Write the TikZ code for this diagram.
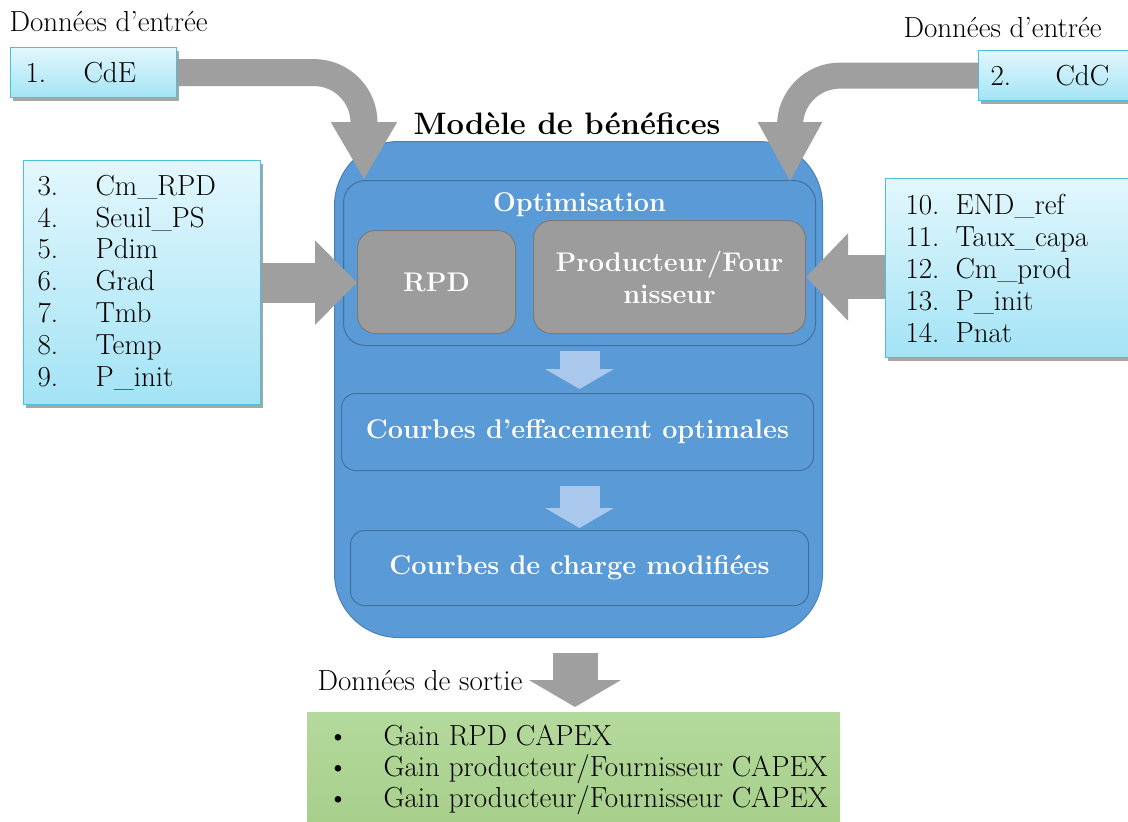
\documentclass[tikz,border=0pt]{standalone}
\usepackage{fontspec}
\usepackage{tikz}
\usetikzlibrary{arrows.meta,shadows,positioning}
\definecolor{intop}{HTML}{E2F7FD}
\definecolor{inbot}{HTML}{A3E3F5}
\definecolor{inedge}{HTML}{4CBFDB}
\definecolor{model}{HTML}{5A9AD6}
\definecolor{modeledge}{HTML}{4A80B8}
\definecolor{inner}{HTML}{41719F}
\definecolor{block}{HTML}{9C9C9C}
\definecolor{blockedge}{HTML}{7B7B7B}
\definecolor{flow}{HTML}{9F9F9F}
\definecolor{lightflow}{HTML}{A9C8EB}
\definecolor{outtop}{HTML}{B4D99C}
\definecolor{outbot}{HTML}{A7CF8B}
\newcommand{\itm}[3][58pt]{\makebox[#1][l]{#2}#3}
\tikzset{
  txt/.style={font=\fontsize{29}{31}\selectfont},
  wtxt/.style={text=white, font=\fontsize{27}{32}\selectfont\bfseries},
  inbox/.style={txt, draw=inedge, line width=1.2pt, top color=intop, bottom color=inbot,
    drop shadow={shadow xshift=2pt, shadow yshift=-3pt, opacity=.35, fill=black},
    anchor=north west, align=left, inner ysep=0pt},
  modelbox/.style={draw=modeledge, line width=1pt, fill=model, rounded corners=64pt,
    anchor=north west, inner sep=0pt},
  optbox/.style={wtxt, draw=inner, line width=1pt, fill=model, anchor=north west,
    inner sep=0pt, align=center},
  blockbox/.style={wtxt, draw=blockedge, line width=1pt, fill=block, rounded corners=18pt,
    anchor=north west, align=center, inner sep=0pt},
  outbox/.style={txt, top color=outtop, bottom color=outbot, anchor=north west,
    align=left, inner sep=0pt},
  bigflow/.style={draw=flow, line width=#1},
  stepflow/.style={draw=lightflow, line width=40pt, -{Triangle[width=68pt,length=20pt]}},
}
\begin{document}
\begin{tikzpicture}[x=1pt,y=-1pt]
\fill[white] (0,0) rectangle (1128,822);
\useasboundingbox (0,0) rectangle (1128,822);

% entrees
\node[txt, anchor=west] (lblA) at (6,22) {Données d'entrée};
\node[txt, anchor=west] (lblB) at (900,28) {Données d'entrée};
\node[inbox, minimum width=166pt, minimum height=50pt, text width=136pt, inner xsep=15pt] (cde) at (10,47) {\itm{1.}{CdE}};
\node[inbox, minimum width=170pt, minimum height=50pt, text width=146pt, inner xsep=12pt] (cdc) at (978,50) {\itm[65pt]{2.}{CdC}};
\node[inbox, minimum width=237pt, minimum height=244pt, text width=209pt, inner xsep=14pt,
  font=\fontsize{29}{31.8}\selectfont] (listA) at (23,160)
  {\itm{3.}{Cm\_RPD}\\ \itm{4.}{Seuil\_PS}\\ \itm{5.}{Pdim}\\ \itm{6.}{Grad}\\
   \itm{7.}{Tmb}\\ \itm{8.}{Temp}\\ \itm{9.}{P\_init}};
\node[inbox, minimum width=260pt, minimum height=179pt, text width=220pt, inner xsep=20pt,
  font=\fontsize{29}{32}\selectfont] (listB) at (885,178)
  {\itm[50pt]{10.}{END\_ref}\\ \itm[50pt]{11.}{Taux\_capa}\\ \itm[50pt]{12.}{Cm\_prod}\\
   \itm[50pt]{13.}{P\_init}\\ \itm[50pt]{14.}{Pnat}};

% modele
\node[modelbox, minimum width=488pt, minimum height=496pt] (model) at (334,141) {};
\node[font=\fontsize{31}{36}\selectfont\bfseries] (title) at (567,124) {Modèle de bénéfices};
\node[optbox, rounded corners=22pt, minimum width=472pt, minimum height=165pt] (optim) at (343,180) {};
\node[wtxt, below=9pt of optim.north] (optlbl) {Optimisation};
\node[blockbox, minimum width=158pt, minimum height=103pt] (rpd) at (357,230) {RPD};
\node[blockbox, minimum width=272pt, minimum height=113pt] (prod) at (533,220) {Producteur/Four\\nisseur};
\node[optbox, rounded corners=14pt, minimum width=472pt, minimum height=77pt] (effac) at (341,393) {Courbes d'effacement optimales};
\node[optbox, rounded corners=14pt, minimum width=458pt, minimum height=75pt] (charge) at (350,530) {Courbes de charge modifiées};
\draw[stepflow, shorten <=5pt, shorten >=4pt] (optim.south) -- (optim.south |- effac.north);
\draw[stepflow, shorten <=15pt, shorten >=2pt] (optim.south |- effac.south) -- (optim.south |- charge.north);

% fleches d'entree
\coordinate (inA) at (364,180);
\coordinate (inB) at (790,182);
\draw[bigflow=27pt, rounded corners=50pt, -{Triangle[width=62pt,length=58pt]}] (cde.east) -| (inA);
\draw[bigflow=26pt, rounded corners=50pt, -{Triangle[width=60pt,length=60pt]}] (cdc.west) -| (inB);
\draw[bigflow=40pt, -{Triangle[width=82pt,length=42pt]}] (listA.east) -- (listA.east -| rpd.west);
\draw[bigflow=44pt, -{Triangle[width=85pt,length=42pt]}] (listB.west |- prod.east) -- (prod.east);

% sortie
\node[outbox, minimum width=533pt, minimum height=116pt] (gain) at (307,712)
  {\itm[64pt]{\hspace*{8pt}\textbullet}{Gain RPD CAPEX}\\
   \itm[64pt]{\hspace*{8pt}\textbullet}{Gain producteur/Fournisseur CAPEX}\\
   \itm[64pt]{\hspace*{8pt}\textbullet}{Gain producteur/Fournisseur CAPEX}};
\coordinate (outtip) at (575,707);
\draw[bigflow=45pt, -{Triangle[width=91pt,length=27pt]}, shorten <=15pt, shorten >=5pt]
  (model.south -| outtip) -- (gain.north -| outtip);
\node[txt, anchor=east] (sortie) at (526,681) {Données de sortie};
\end{tikzpicture}
\end{document}
